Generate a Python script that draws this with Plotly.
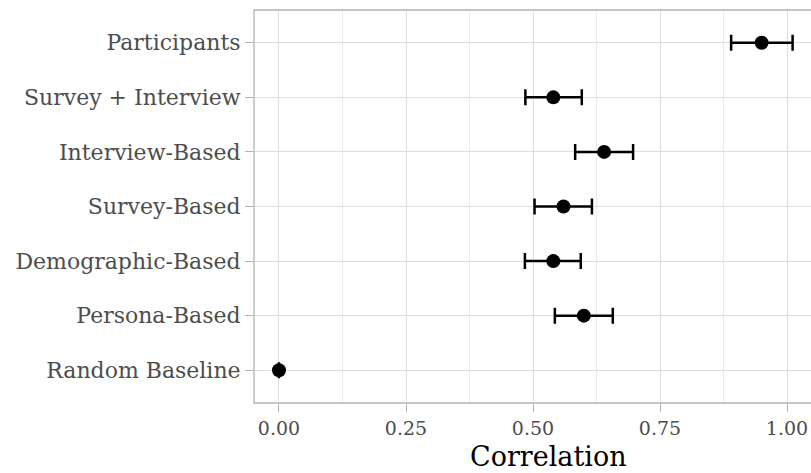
import plotly.graph_objects as go

categories = ["Participants", "Survey + Interview", "Interview-Based", "Survey-Based",
              "Demographic-Based", "Persona-Based", "Random Baseline"]
correlation = [0.950, 0.540, 0.640, 0.560, 0.540, 0.600, 0.000]
ci_low = [0.890, 0.485, 0.583, 0.503, 0.484, 0.543, 0.000]
ci_high = [1.011, 0.596, 0.697, 0.616, 0.594, 0.657, 0.000]
x_ticks = [0.00, 0.25, 0.50, 0.75, 1.00]
x_tick_labels = ["0.00", "0.25", "0.50", "0.75", "1.00"]
x_title = "Correlation"

err_plus = [h - c for h, c in zip(ci_high, correlation)]
err_minus = [c - l for c, l in zip(correlation, ci_low)]

FONT = "DejaVu Serif"

fig = go.Figure()
fig.add_trace(go.Scatter(
    x=correlation, y=categories, mode="markers",
    marker=dict(color="black", size=14),
    error_x=dict(type="data", symmetric=False, array=err_plus, arrayminus=err_minus,
                 color="black", thickness=2.5, width=8),
    showlegend=False,
))

minor_vals = [0.125, 0.375, 0.625, 0.875]

fig.update_layout(
    width=811, height=473,
    margin=dict(l=254, r=0, t=10, b=70),
    paper_bgcolor="white", plot_bgcolor="white",
    font=dict(family=FONT, color="#4d4d4d", size=21),
    xaxis=dict(
        range=[-0.0492, 1.0472],
        tickvals=x_ticks, ticktext=x_tick_labels,
        showgrid=True, gridcolor="#dedede", gridwidth=1,
        minor=dict(tickvals=minor_vals, showgrid=True, gridcolor="#ececec", gridwidth=1, ticklen=0),
        ticks="outside", ticklen=8, tickcolor="#b3b3b3", tickwidth=1,
        tickfont=dict(size=19, color="#4d4d4d", family=FONT),
        zeroline=False, showline=False,
    ),
    yaxis=dict(
        categoryorder="array", categoryarray=categories[::-1],
        range=[-0.6, 6.6],
        showgrid=True, gridcolor="#dedede", gridwidth=1,
        ticks="outside", ticklen=8, tickcolor="#b3b3b3", tickwidth=1,
        tickfont=dict(size=22, color="#4d4d4d", family=FONT),
        zeroline=False, showline=False,
    ),
    shapes=[dict(type="rect", xref="paper", yref="paper", x0=0, x1=1.05, y0=0, y1=1,
                 line=dict(color="#b3b3b3", width=1.3), fillcolor="rgba(0,0,0,0)", layer="above")],
    annotations=[dict(text=x_title, xref="paper", yref="paper", x=0.528, y=0,
                      yshift=-53, xanchor="center", yanchor="middle", showarrow=False,
                      font=dict(family=FONT, size=27, color="black"))],
)

fig.write_html("out.html", config={"displayModeBar": False},
               post_script="document.body.style.margin='0';document.body.style.overflow='hidden';")
